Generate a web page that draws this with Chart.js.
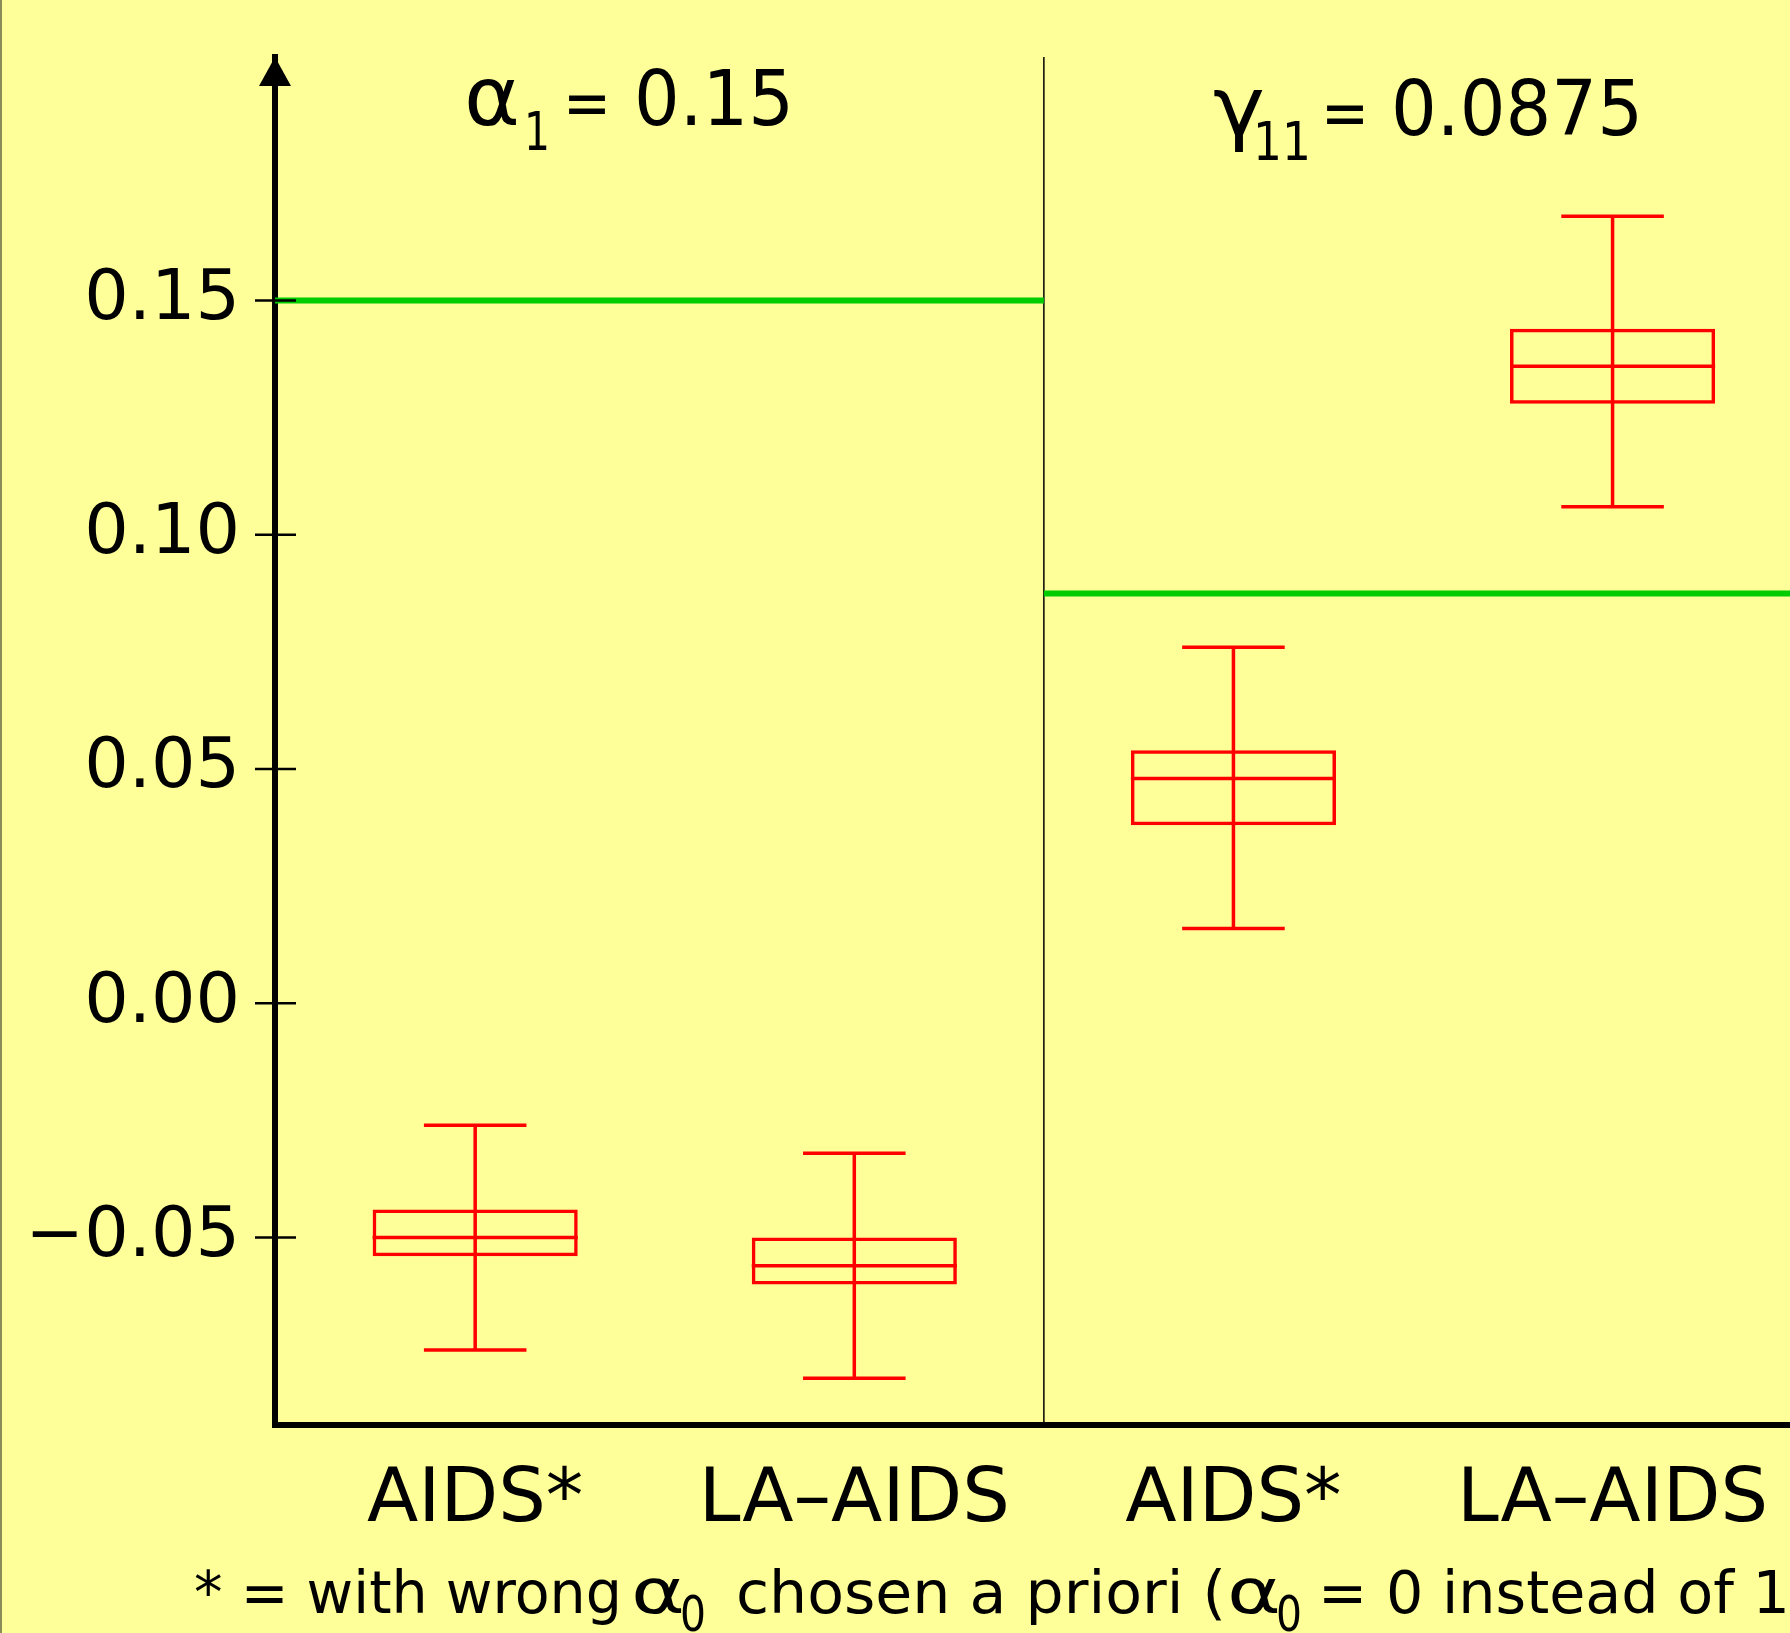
<!DOCTYPE html>
<html>
<head>
<meta charset="utf-8">
<script src="https://cdn.jsdelivr.net/npm/chart.js@4.4.0/dist/chart.umd.min.js"></script>
<style>
  html, body { margin: 0; padding: 0; background: #ffff99; }
  canvas { display: block; }
</style>
</head>
<body>
<canvas id="c" width="1790" height="1633"></canvas>
<script>
// box plot values
const categories = ['AIDS*', 'LA–AIDS', 'AIDS*', 'LA–AIDS'];
const whiskerHigh = [-0.026, -0.032, 0.076, 0.168];
const boxHigh = [-0.044, -0.050, 0.054, 0.144];
const medians = [-0.050, -0.056, 0.048, 0.136];
const boxLow = [-0.054, -0.060, 0.038, 0.128];
const whiskerLow = [-0.074, -0.080, 0.016, 0.106];

// true parameter values, one per panel
const paramSymbols = ['α', 'γ'];
const paramSubs = ['1', '11'];
const trueValues = [0.15, 0.0875];
const trueLabels = ['0.15', '0.0875'];

const tickValues = [-0.05, 0, 0.05, 0.10, 0.15];
const tickLabels = ['−0.05', '0.00', '0.05', '0.10', '0.15'];

const FONT = '"DejaVu Sans", sans-serif';
Chart.defaults.font.family = FONT;
Chart.defaults.color = '#000';

// draw text squeezed/stretched to a given width
function fitText(ctx, text, x, base, size, width) {
  ctx.font = size + 'px ' + FONT;
  const w = ctx.measureText(text).width;
  ctx.save();
  ctx.translate(x, base);
  ctx.scale(width / w, 1);
  ctx.fillText(text, 0, 0);
  ctx.restore();
  return x + width;
}

const boxPlot = {
  id: 'boxPlot',
  beforeDraw(chart) {
    const ctx = chart.ctx;
    ctx.save();
    ctx.fillStyle = '#ffff99';
    ctx.fillRect(0, 0, chart.width, chart.height);
    ctx.restore();
  },
  afterDatasetsDraw(chart) {
    const {ctx, chartArea: area, scales: {y}} = chart;
    const bars = chart.getDatasetMeta(0).data;
    ctx.save();

    // whiskers and medians
    ctx.strokeStyle = '#ff0000';
    ctx.lineWidth = 3.5;
    bars.forEach((bar, i) => {
      const cap = bar.width * 0.25;
      const yHi = y.getPixelForValue(whiskerHigh[i]);
      const yLo = y.getPixelForValue(whiskerLow[i]);
      const yMed = y.getPixelForValue(medians[i]);
      ctx.beginPath();
      ctx.moveTo(bar.x, yHi); ctx.lineTo(bar.x, yLo);
      ctx.moveTo(bar.x - cap, yHi); ctx.lineTo(bar.x + cap, yHi);
      ctx.moveTo(bar.x - cap, yLo); ctx.lineTo(bar.x + cap, yLo);
      ctx.moveTo(bar.x - bar.width / 2, yMed); ctx.lineTo(bar.x + bar.width / 2, yMed);
      ctx.stroke();
    });

    // panel divider
    const divX = (bars[1].x + bars[2].x) / 2;
    ctx.strokeStyle = '#000';
    ctx.lineWidth = 1.5;
    ctx.beginPath();
    ctx.moveTo(divX, area.top);
    ctx.lineTo(divX, area.bottom);
    ctx.stroke();

    // true values
    const panels = [[area.left, divX], [divX, area.right]];
    ctx.strokeStyle = '#00cc00';
    ctx.lineWidth = 6;
    trueValues.forEach((v, i) => {
      const py = y.getPixelForValue(v);
      ctx.beginPath();
      ctx.moveTo(panels[i][0], py);
      ctx.lineTo(panels[i][1], py);
      ctx.stroke();
    });

    // tick marks crossing the axis
    ctx.strokeStyle = '#000';
    ctx.lineWidth = 2.5;
    tickValues.forEach(v => {
      const py = y.getPixelForValue(v);
      ctx.beginPath();
      ctx.moveTo(area.left - 20, py);
      ctx.lineTo(area.left + 21, py);
      ctx.stroke();
    });

    // arrow head
    ctx.fillStyle = '#000';
    ctx.beginPath();
    ctx.moveTo(area.left, area.top);
    ctx.lineTo(area.left - 16, area.top + 29);
    ctx.lineTo(area.left + 16, area.top + 29);
    ctx.closePath();
    ctx.fill();

    // panel titles
    ctx.textBaseline = 'alphabetic';
    ctx.textAlign = 'left';
    const titleLayout = [
      { sym: [464, 56], sub: [524, 26], eq: 563, val: [634, 160], base: 125 },
      { sym: [1213, 52], sub: [1253, 58], eq: 1321, val: [1391, 252], base: 135 }
    ];
    titleLayout.forEach((t, i) => {
      fitText(ctx, paramSymbols[i], t.sym[0], t.base, 82, t.sym[1]);
      fitText(ctx, paramSubs[i], t.sub[0], t.base + 25, 54, t.sub[1]);
      fitText(ctx, '=', t.eq, t.base, 66, 48);
      fitText(ctx, trueLabels[i], t.val[0], t.base, 76, t.val[1]);
    });

    // footnote
    const fb = 1613;
    fitText(ctx, '* = with wrong', 194, fb, 58, 428);
    fitText(ctx, 'α', 631, fb, 62, 54);
    fitText(ctx, '0', 680, fb + 18, 50, 26);
    fitText(ctx, 'chosen a priori (', 736, fb, 58, 490);
    fitText(ctx, 'α', 1227, fb, 62, 54);
    fitText(ctx, '0', 1276, fb + 18, 50, 26);
    const xe = fitText(ctx, '= 0 instead of 1', 1318, fb, 58, 472);
    fitText(ctx, ')', xe + 4, fb, 58, 22);

    // thin frame at the left edge
    ctx.strokeStyle = '#8c8c5a';
    ctx.lineWidth = 2;
    ctx.beginPath();
    ctx.moveTo(1, 0);
    ctx.lineTo(1, chart.height);
    ctx.stroke();

    ctx.restore();
  }
};

new Chart(document.getElementById('c'), {
  type: 'bar',
  data: {
    datasets: [{
      data: boxLow.map((lo, i) => ({ x: i, y: [lo, boxHigh[i]] })),
      backgroundColor: 'rgba(0,0,0,0)',
      borderColor: '#ff0000',
      borderWidth: 3.5,
      borderSkipped: false,
      categoryPercentage: 1,
      barPercentage: 0.541
    }]
  },
  options: {
    responsive: false,
    animation: false,
    layout: { padding: { top: 57, left: 0, right: 0, bottom: 0 } },
    plugins: { legend: { display: false }, tooltip: { enabled: false } },
    scales: {
      x: {
        type: 'linear',
        min: -0.528,
        max: 3.468,
        offset: false,
        grid: { display: false, drawTicks: false, tickLength: 0 },
        border: { color: '#000', width: 6 },
        afterBuildTicks(scale) { scale.ticks = categories.map((c, i) => ({ value: i })); },
        ticks: {
          font: { size: 75 },
          padding: 32,
          maxRotation: 0,
          autoSkip: false,
          callback: (v, i) => categories[i]
        },
        afterFit(scale) {
          scale.height = 208;
          scale.paddingLeft = 0;
          scale.paddingRight = 0;
        }
      },
      y: {
        min: -0.09,
        max: 0.202,
        grid: { display: false, drawTicks: false, tickLength: 0 },
        border: { color: '#000', width: 6 },
        afterBuildTicks(scale) { scale.ticks = tickValues.map(v => ({ value: v })); },
        ticks: {
          font: { size: 70 },
          padding: 35,
          callback: (v, i) => tickLabels[i]
        },
        afterFit(scale) {
          scale.width = 275;
          scale.paddingTop = 0;
          scale.paddingBottom = 0;
        }
      }
    }
  },
  plugins: [boxPlot]
});
</script>
</body>
</html>
